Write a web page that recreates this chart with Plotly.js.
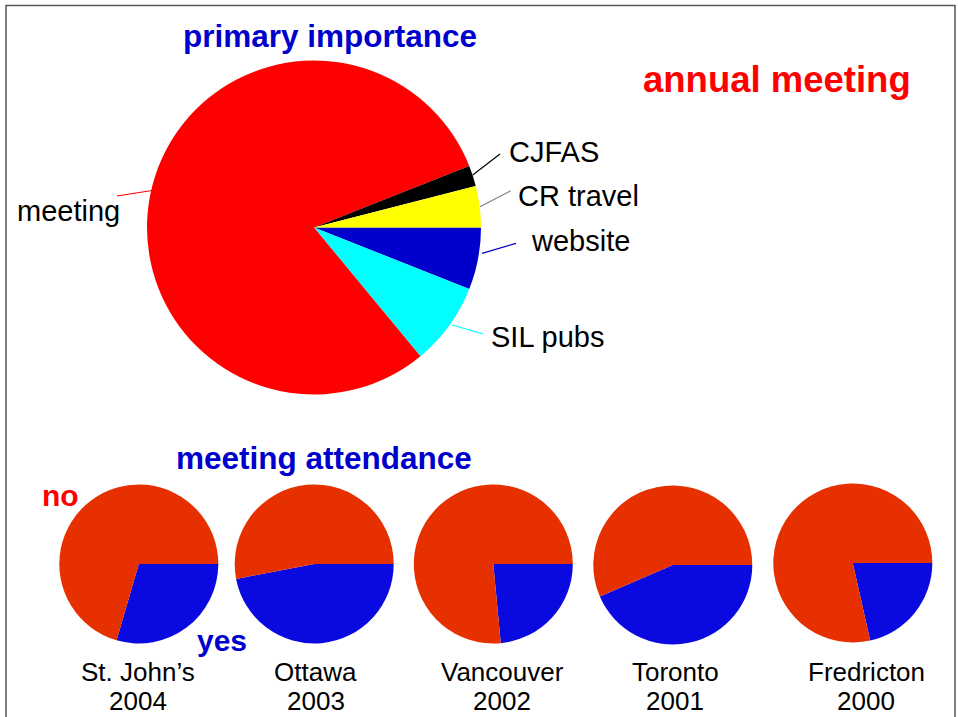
<!DOCTYPE html>
<html>
<head>
<meta charset="utf-8">
<script src="https://cdn.plot.ly/plotly-3.0.1.min.js"></script>
<style>html,body{margin:0;padding:0;background:#fff;}#chart{width:958px;height:717px;}</style>
</head>
<body>
<div id="chart"></div>
<script>
// ---- data ----
var mainLabels = ["website", "SIL pubs", "meeting", "CJFAS", "CR travel"];
var mainValues = [6, 8, 80, 2, 4];
var cities = ["St. John’s", "Ottawa", "Vancouver", "Toronto", "Fredricton"];
var years = ["2004", "2003", "2002", "2001", "2000"];
var attendLabels = ["yes", "no"];
var yesPct = [29.5, 47, 23.5, 43.5, 21.5];
var noPct = [70.5, 53, 76.5, 56.5, 78.5];

// ---- styles ----
var W = 958, H = 717;
var FONT = "Liberation Sans, Arial, sans-serif";
var mainColors = ["#0000CC", "#00FFFF", "#FF0000", "#000000", "#FFFF00"];
var attendColors = ["#0A0AE0", "#E63000"];
function px(x) { return x / W; }
function py(y) { return 1 - y / H; }

var traces = [];
// main pie: center (314,227.5), r 167
traces.push({
  type: "pie", labels: mainLabels, values: mainValues, sort: false,
  direction: "clockwise", rotation: 90,
  marker: {colors: mainColors, line: {width: 0}},
  textinfo: "none", hoverinfo: "label+value", showlegend: false,
  domain: {x: [px(314 - 167), px(314 + 167)], y: [py(227.5 + 167), py(227.5 - 167)]}
});
var smallCX = [138.8, 314.2, 493.3, 672.8, 852.8];
var smallCY = [564, 564, 564, 565, 563];
var smallR = 79.5;
for (var i = 0; i < cities.length; i++) {
  traces.push({
    type: "pie", labels: attendLabels, values: [yesPct[i], noPct[i]], sort: false,
    direction: "clockwise", rotation: 90,
    marker: {colors: attendColors, line: {width: 0}},
    textinfo: "none", hoverinfo: "label+value", showlegend: false, name: cities[i],
    domain: {x: [px(smallCX[i] - smallR), px(smallCX[i] + smallR)],
             y: [py(smallCY[i] + smallR), py(smallCY[i] - smallR)]}
  });
}

var ann = [];
function txt(t, x, y, size, color, bold, anchor) {
  ann.push({text: bold ? "<b>" + t + "</b>" : t, x: px(x), y: py(y), xref: "paper", yref: "paper",
    xanchor: anchor || "center", yanchor: "middle", showarrow: false, borderpad: 0,
    font: {family: FONT, size: size, color: color}});
}
txt("primary importance", 330, 36, 31.5, "#0000CC", true);
txt("annual meeting", 777, 80, 36.5, "#FF0000", true);
txt("meeting attendance", 324, 458, 31.5, "#0000CC", true);
txt("no", 60, 495, 30, "#FF0000", true);
txt("yes", 222, 640, 30, "#0000CC", true);

// main pie labels
var labPos = {"CJFAS": [508, 152], "CR travel": [517, 196], "website": [530, 241], "SIL pubs": [490, 337], "meeting": [16, 211]};
for (var k = 0; k < mainLabels.length; k++) {
  var p = labPos[mainLabels[k]];
  txt(mainLabels[k], p[0], p[1], 29, "#000000", false, "left");
}
var cityX = [137.5, 315.5, 502, 675, 866];
for (var j = 0; j < cities.length; j++) {
  txt(cities[j], cityX[j], 672, 26, "#000000", false);
  txt(years[j], cityX[j], 701, 26, "#000000", false);
}

var shapes = [];
function seg(x0, y0, x1, y1, c) {
  shapes.push({type: "line", xref: "paper", yref: "paper", x0: px(x0), y0: py(y0), x1: px(x1), y1: py(y1),
    line: {color: c, width: 1.2}});
}
seg(117, 196, 152, 190.5, "#FF0000");
seg(472.7, 175, 500, 154, "#000000");
seg(480, 206.7, 510.7, 190.7, "#808080");
seg(482, 253.3, 516, 243.3, "#0000CC");
seg(452, 325, 483.3, 334, "#00FFFF");
shapes.push({type: "rect", xref: "paper", yref: "paper", x0: px(6), x1: px(955), y0: py(730), y1: py(5.5),
  line: {color: "#555555", width: 1.5}, fillcolor: "rgba(0,0,0,0)"});

Plotly.newPlot("chart", traces, {
  width: W, height: H, margin: {l: 0, r: 0, t: 0, b: 0},
  paper_bgcolor: "#ffffff", plot_bgcolor: "#ffffff",
  showlegend: false, annotations: ann, shapes: shapes,
  font: {family: FONT}
}, {displayModeBar: false, staticPlot: true});
</script>
</body>
</html>
